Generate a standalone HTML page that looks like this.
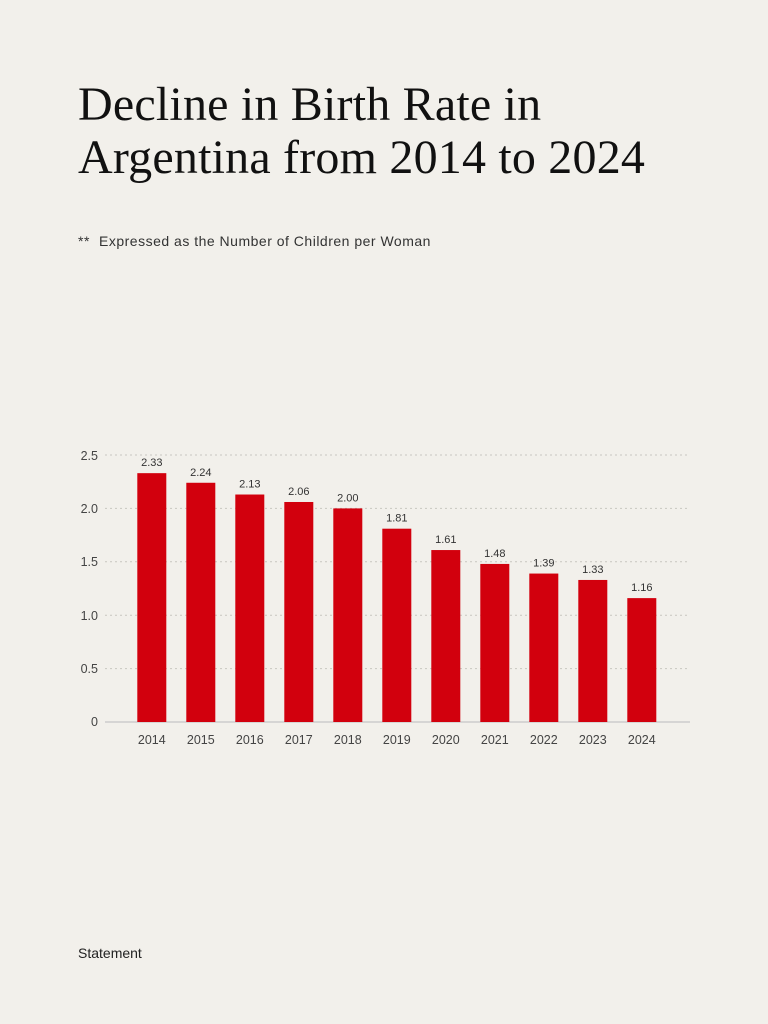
<!DOCTYPE html>
<html><head><style>
body{margin:0;background:#f2f0eb;}
.t{position:absolute;left:78px;top:78px;font-family:"Liberation Serif",serif;font-size:48px;line-height:53px;color:#111;letter-spacing:0.2px;}
.s{position:absolute;left:78px;top:233px;font-family:"Liberation Sans",sans-serif;font-size:14px;letter-spacing:0.5px;color:#333;}
.s span{position:absolute;left:21px;white-space:nowrap;}
.f{position:absolute;left:78px;top:945px;font-family:"Liberation Sans",sans-serif;font-size:14px;color:#222;}
</style></head><body>
<div style="position:relative;width:768px;height:1024px;overflow:hidden">
<div class="t">Decline in Birth Rate in<br>Argentina from 2014 to 2024</div>
<div class="s">**<span>Expressed as the Number of Children per Woman</span></div>
<svg width="768" height="1024" style="position:absolute;left:0;top:0" font-family="Liberation Sans, sans-serif">
<g stroke="#c8c6c0" stroke-dasharray="2,3" stroke-width="1">
<line x1="105" x2="690" y1="455" y2="455"/><line x1="105" x2="690" y1="508.4" y2="508.4"/><line x1="105" x2="690" y1="561.8" y2="561.8"/><line x1="105" x2="690" y1="615.2" y2="615.2"/><line x1="105" x2="690" y1="668.6" y2="668.6"/>
</g>
<line x1="105" x2="690" y1="722" y2="722" stroke="#ccc" stroke-width="1.5"/>
<g font-size="12.5" fill="#444" text-anchor="end">
<text x="98" y="460">2.5</text><text x="98" y="513">2.0</text><text x="98" y="566">1.5</text><text x="98" y="620">1.0</text><text x="98" y="673">0.5</text><text x="98" y="726">0</text>
</g>
<g id="bars"></g>
</svg>
<div class="f">Statement</div>
</div>
<script>
var v=[2.33,2.24,2.13,2.06,2.00,1.81,1.61,1.48,1.39,1.33,1.16],g=document.getElementById('bars'),h='';
for(var i=0;i<11;i++){var x=137.3+i*49,y=722-v[i]*106.8,c=x+14.5;
h+='<rect x="'+x+'" y="'+y+'" width="29" height="'+(722-y)+'" fill="#d2000d"/>';
h+='<text x="'+c+'" y="'+(y-7)+'" font-size="11" fill="#333" text-anchor="middle">'+v[i].toFixed(2)+'</text>';
h+='<text x="'+c+'" y="744" font-size="12.5" fill="#444" text-anchor="middle">'+(2014+i)+'</text>';}
g.innerHTML=h;
</script>
</body></html>
